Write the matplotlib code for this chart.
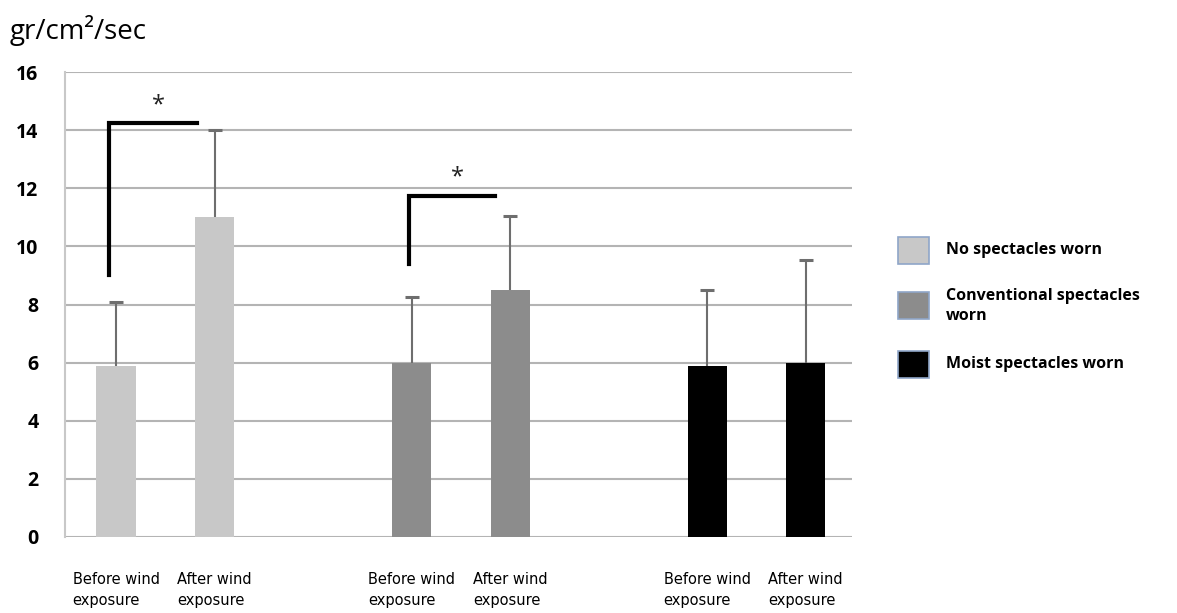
import matplotlib.pyplot as plt
from matplotlib.patches import Rectangle

plt.rcParams['font.family'] = ['Open Sans', 'DejaVu Sans']

# data
conditions = ['No spectacles worn', 'Conventional spectacles\nworn', 'Moist spectacles worn']
colors = ['#c8c8c8', '#8c8c8c', '#000000']
tick_labels = ['Before wind\nexposure', 'After wind\nexposure'] * 3
means = [5.9, 11.0, 6.0, 8.5, 5.9, 6.0]
upper = [8.1, 14.0, 8.25, 11.05, 8.5, 9.53]
positions = [0, 1, 3, 4, 6, 7]
# significance brackets: (x start, x end, y low, y top)
brackets = [(-0.07, 0.82, 9.0, 14.25), (2.97, 3.85, 9.4, 11.75)]

fig = plt.figure(figsize=(11.77, 6.13), dpi=100)
ax = fig.add_axes([0.0552, 0.124, 0.6687, 0.7585])

bar_colors = [colors[i // 2] for i in range(6)]
ax.bar(positions, means, width=0.4, color=bar_colors, zorder=3)
err = [u - m for u, m in zip(upper, means)]
_, caps, _ = ax.errorbar(positions, means, yerr=[[0] * 6, err], fmt='none', ecolor='#6e6e6e',
                         elinewidth=1.5, capsize=5, capthick=2.2, zorder=2)
caps[0].set_visible(False)
caps[1].set_color('#3c3c3c')

for x0, x1, ylo, ytop in brackets:
    ax.plot([x0, x0, x1], [ylo, ytop, ytop], color='black', lw=3,
            solid_joinstyle='miter', zorder=4)
    ax.text((x0 + x1) / 2 + 0.05, ytop + 0.2, '*', ha='center', va='bottom',
            fontsize=17, color='#222222')

ax.set_ylim(0, 16)
ax.set_xlim(-0.52, 7.47)
ax.set_yticks(range(0, 17, 2))
ax.set_yticklabels([str(v) for v in range(0, 17, 2)], fontsize=14, fontweight='bold')
ax.yaxis.grid(True, color='#b4b4b4', lw=1.5, zorder=0)
ax.set_axisbelow(True)
ax.tick_params(length=0, pad=19)
ax.tick_params(axis='x', pad=25)
ax.set_xticks(positions)
ax.set_xticklabels(tick_labels, fontsize=10.5, family=['Liberation Sans Narrow', 'DejaVu Sans'],
                   multialignment='left', linespacing=1.5)
for s in ['top', 'right', 'bottom']:
    ax.spines[s].set_visible(False)
ax.spines['left'].set_color('#c8c8c8')
ax.spines['left'].set_linewidth(1.5)

fig.text(0.008, 0.951, 'gr/cm²/sec', fontsize=20, ha='left', va='center')

# legend
legend_y = [0.592, 0.501, 0.406]
for c, label, y in zip(colors, conditions, legend_y):
    fig.add_artist(Rectangle((0.763, y - 0.022), 0.026, 0.044, transform=fig.transFigure,
                             facecolor=c, edgecolor='#8fa6c8', lw=1.2))
    fig.text(0.804, y, label, fontsize=11.5, fontweight='bold', va='center', ha='left',
             linespacing=1.35)

fig.savefig('out.png', dpi=100)
